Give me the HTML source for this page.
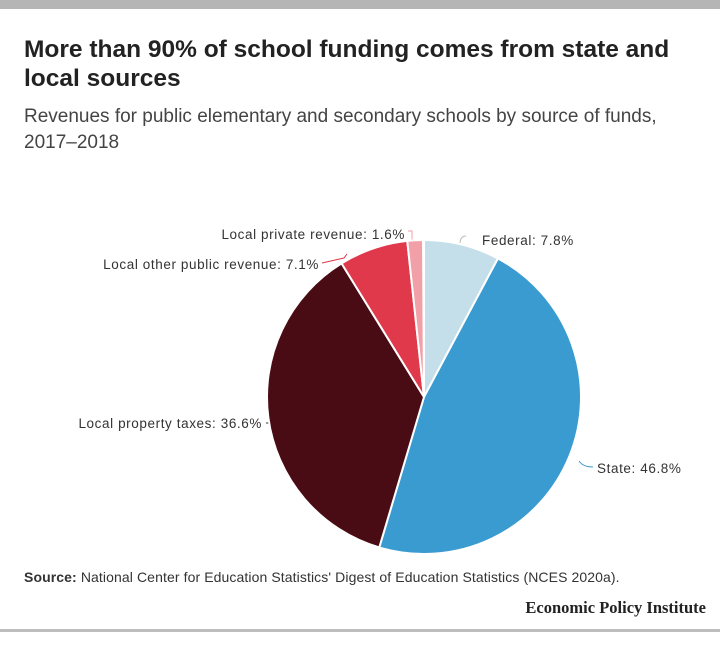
<!DOCTYPE html>
<html><head><meta charset="utf-8"><style>
body{margin:0;width:720px;height:659px;background:#fff;position:relative;font-family:"Liberation Sans",sans-serif;overflow:hidden}
.t{position:absolute;left:24px;top:35px;font-size:24.5px;font-weight:bold;color:#222;line-height:29px;width:690px;white-space:nowrap}
.s{position:absolute;left:24px;top:104px;font-size:19px;color:#444;line-height:26px;white-space:nowrap}
.src{position:absolute;left:24px;top:569px;font-size:14px;color:#333;white-space:nowrap;letter-spacing:0.1px}
.epi{position:absolute;right:14px;top:598px;font-family:"Liberation Serif",serif;font-weight:bold;font-size:16.5px;color:#222}
</style></head><body>
<div style="position:absolute;left:0;top:0;width:720px;height:9px;background:#b5b5b5"></div>
<div style="position:absolute;left:0;top:629px;width:720px;height:3px;background:#bdbdbd"></div>
<div class="t">More than 90% of school funding comes from state and<br>local sources</div>
<div class="s">Revenues for public elementary and secondary schools by source of funds,<br>2017–2018</div>
<svg id="p" width="720" height="659" style="position:absolute;left:0;top:0" font-family="Liberation Sans, sans-serif" font-size="13.5" letter-spacing="0.6" fill="#333">
<text x="482" y="245">Federal: 7.8%</text>
<text x="597" y="473">State: 46.8%</text>
<text x="262" y="428" text-anchor="end">Local property taxes: 36.6%</text>
<text x="319" y="269" text-anchor="end">Local other public revenue: 7.1%</text>
<text x="405" y="239" text-anchor="end">Local private revenue: 1.6%</text>
<path d="M466 236 q-6 0 -6 8" stroke="#bbb" fill="none"/>
<path d="M593 467 q-10 0 -14 -6" stroke="#3a9bd0" fill="none"/>
<path d="M266 423 h10" stroke="#333" fill="none"/>
<path d="M322 263 l22 -5 l3 -4" stroke="#e0394b" fill="none"/>
<path d="M408 231 h4 v10" stroke="#f2a0a8" fill="none"/>
</svg>
<div class="src"><b>Source:</b> National Center for Education Statistics' Digest of Education Statistics (NCES 2020a).</div>
<div class="epi">Economic Policy Institute</div>
<script>
var d=[[7.8,"#c5dfea"],[46.8,"#3a9bd0"],[36.6,"#4a0c14"],[7.1,"#e0394b"],[1.6,"#f2a0a8"]];
var cx=424,cy=397,r=157,a=0,s=document.getElementById('p'),h='';
d.forEach(function(e){var a1=a+e[0]/100*2*Math.PI;
var x0=cx+r*Math.sin(a),y0=cy-r*Math.cos(a),x1=cx+r*Math.sin(a1),y1=cy-r*Math.cos(a1);
h+='<path d="M'+cx+' '+cy+' L'+x0+' '+y0+' A'+r+' '+r+' 0 '+((a1-a)>Math.PI?1:0)+' 1 '+x1+' '+y1+' Z" fill="'+e[1]+'" stroke="#fff" stroke-width="2"/>';a=a1;});
s.innerHTML+=h;
</script>
</body></html>
